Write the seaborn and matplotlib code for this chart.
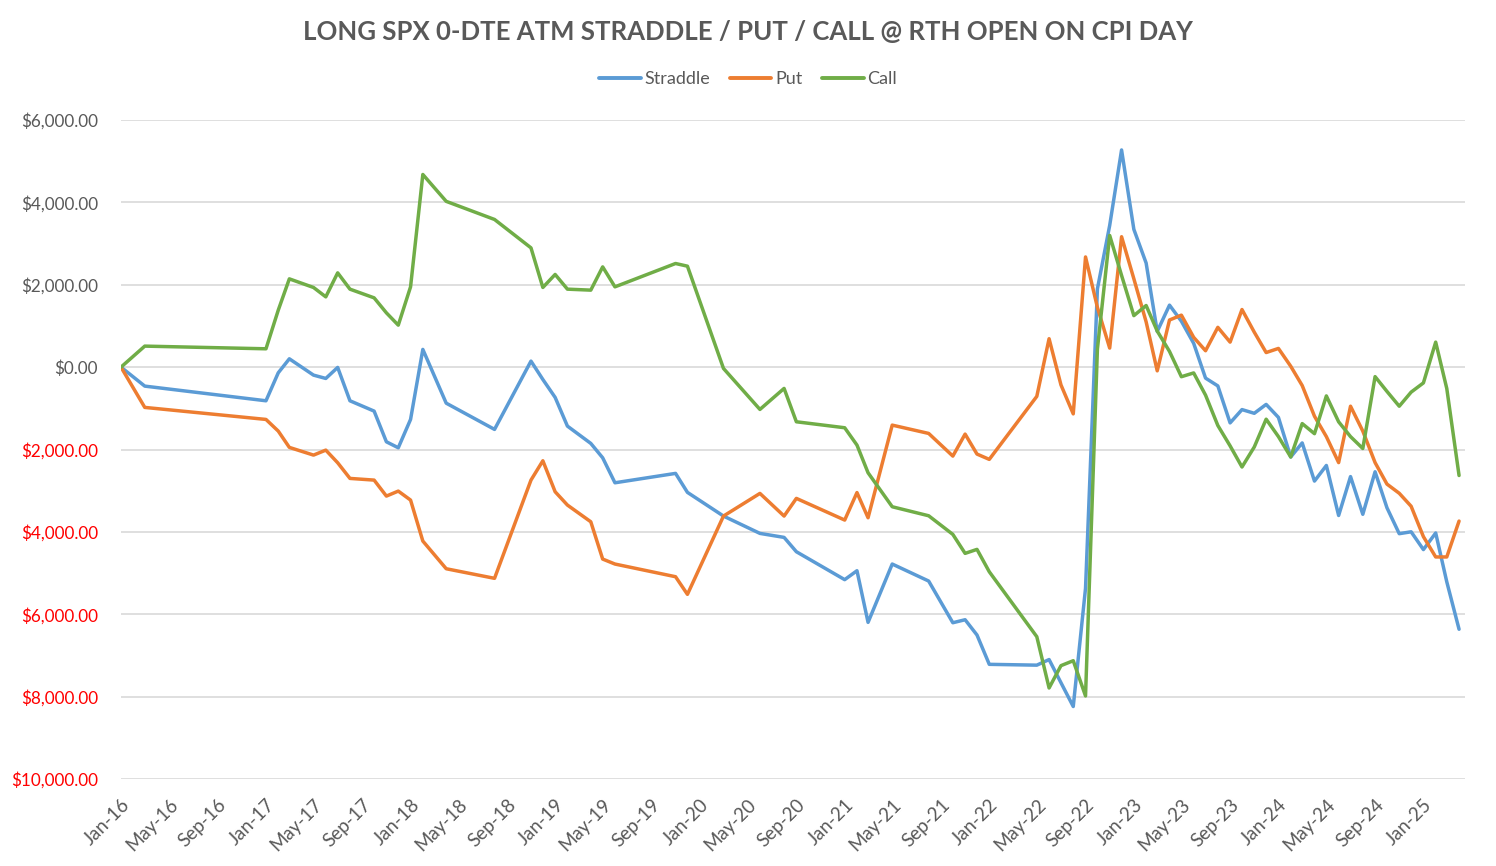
"""Long SPX 0-DTE ATM straddle / put / call P&L at RTH open on CPI day."""

import matplotlib

matplotlib.use("Agg")

import matplotlib.pyplot as plt
import matplotlib.ticker as mticker
import pandas as pd
import seaborn as sns
from matplotlib.lines import Line2D

# CPI release months (one trade per release, day set to the 13th)
months = [
    "2016-01", "2016-03", "2017-01", "2017-02", "2017-03", "2017-05", "2017-06", "2017-07",
    "2017-08", "2017-10", "2017-11", "2017-12", "2018-01", "2018-02", "2018-04", "2018-08",
    "2018-11", "2018-12", "2019-01", "2019-02", "2019-04", "2019-05", "2019-06", "2019-11",
    "2019-12", "2020-03", "2020-06", "2020-08", "2020-09", "2021-01", "2021-02", "2021-03",
    "2021-05", "2021-08", "2021-10", "2021-11", "2021-12", "2022-01", "2022-05", "2022-06",
    "2022-07", "2022-08", "2022-09", "2022-10", "2022-11", "2022-12", "2023-01", "2023-02",
    "2023-03", "2023-04", "2023-05", "2023-06", "2023-07", "2023-08", "2023-09", "2023-10",
    "2023-11", "2023-12", "2024-01", "2024-02", "2024-03", "2024-04", "2024-05", "2024-06",
    "2024-07", "2024-08", "2024-09", "2024-10", "2024-11", "2024-12", "2025-01", "2025-02",
    "2025-03", "2025-04",
]

straddle = [
    0, -461, -817, -138, 202, -194, -275, -7,
    -817, -1068, -1813, -1958, -1270, 430, -875, -1512,
    146, -300, -735, -1432, -1852, -2201, -2808, -2580,
    -3041, -3616, -4037, -4134, -4482, -5160, -4943, -6197,
    -4781, -5194, -6206, -6133, -6504, -7216, -7236, -7100,
    -7662, -8240, -5370, 1900, 3440, 5273, 3345, 2527,
    866, 1505, 1115, 578, -267, -456, -1354, -1031,
    -1121, -905, -1221, -2182, -1840, -2767, -2388, -3602,
    -2658, -3573, -2541, -3415, -4044, -3998, -4430, -4027,
    -5213, -6364,
]

put = [
    0, -978, -1270, -1553, -1949, -2136, -2015, -2322,
    -2702, -2743, -3131, -3010, -3228, -4223, -4895, -5128,
    -2743, -2274, -3026, -3349, -3755, -4660, -4781, -5089,
    -5517, -3616, -3066, -3616, -3187, -3713, -3046, -3657,
    -1408, -1610, -2160, -1626, -2111, -2240, -710, 690,
    -432, -1135, 2675, 1450, 462, 3166, 2145, 1099,
    -90, 1144, 1262, 723, 398, 966, 607, 1398,
    849, 354, 454, 22, -447, -1192, -1687, -2318,
    -949, -1553, -2318, -2840, -3063, -3378, -4116, -4609,
    -4609, -3738,
]

call = [
    0, 510, 445, 1383, 2143, 1934, 1706, 2289,
    1893, 1682, 1318, 1019, 1949, 4677, 4025, 3585,
    2896, 1934, 2250, 1893, 1869, 2434, 1949, 2516,
    2451, -32, -1027, -517, -1327, -1472, -1893, -2565,
    -3390, -3609, -4061, -4522, -4425, -4968, -6545, -7790,
    -7248, -7128, -7984, 440, 3197, 2226, 1250, 1496,
    876, 381, -233, -141, -680, -1417, -1912, -2425,
    -1939, -1264, -1687, -2182, -1371, -1616, -699, -1328,
    -1687, -1976, -231, -590, -949, -607, -383, 607,
    -519, -2631,
]

series_names = ["Straddle", "Put", "Call"]
series_colors = ["#5B9BD5", "#ED7D31", "#70AD47"]

GREY = "#595959"

dates = pd.to_datetime([m + "-13" for m in months])
frame = pd.DataFrame({"date": dates, "Straddle": straddle, "Put": put, "Call": call})
long_df = frame.melt(id_vars="date", value_vars=series_names, var_name="series", value_name="pnl")

sns.set_theme(style="white")
plt.rcParams["font.family"] = ["Lato", "DejaVu Sans"]

fig = plt.figure(figsize=(14.96, 8.66), dpi=100)
ax = fig.add_axes([121 / 1496, 1 - 779 / 866, (1465 - 121) / 1496, (779 - 120) / 866])

sns.lineplot(
    data=long_df,
    x="date",
    y="pnl",
    hue="series",
    hue_order=series_names,
    palette=series_colors,
    linewidth=2.5,
    legend=False,
    ax=ax,
)

ax.set_ylim(-10000, 6000)
ax.set_yticks(range(-10000, 6001, 2000))
ax.yaxis.set_major_formatter(mticker.FuncFormatter(lambda v, _: f"${abs(v):,.2f}"))
for label, value in zip(ax.get_yticklabels(), ax.get_yticks()):
    label.set_color("#FF0000" if value < 0 else GREY)

ax.set_xlim(dates[0], dates[-1] + pd.Timedelta(days=15))
ticks = pd.date_range(dates[0], dates[-1], freq=pd.DateOffset(months=4))
ax.set_xticks(ticks)
ax.set_xticklabels([t.strftime("%b-%y") for t in ticks], rotation=45, ha="right", rotation_mode="anchor")

ax.tick_params(axis="y", length=0, pad=16.5, labelsize=12.3)
ax.tick_params(axis="x", length=0, pad=12, labelsize=13.5, colors=GREY)
ax.grid(axis="y", color="#D9D9D9", linewidth=1.2)
ax.grid(axis="x", visible=False)
for spine in ax.spines.values():
    spine.set_visible(False)
ax.set_xlabel("")
ax.set_ylabel("")

fig.suptitle(
    "LONG SPX 0-DTE ATM STRADDLE / PUT / CALL @ RTH OPEN ON CPI DAY",
    x=0.5,
    y=1 - 32 / 866,
    va="center",
    fontsize=18.5,
    fontweight="bold",
    color=GREY,
)

handles = [Line2D([0], [0], color=c, linewidth=2.8) for c in series_colors]
fig.legend(
    handles,
    series_names,
    loc="center",
    bbox_to_anchor=(0.5, 1 - 79 / 866),
    ncol=3,
    frameon=False,
    fontsize=13,
    labelcolor=GREY,
    handlelength=2.3,
    handletextpad=0.2,
    columnspacing=1.1,
)

fig.savefig("out.png", dpi=100)
